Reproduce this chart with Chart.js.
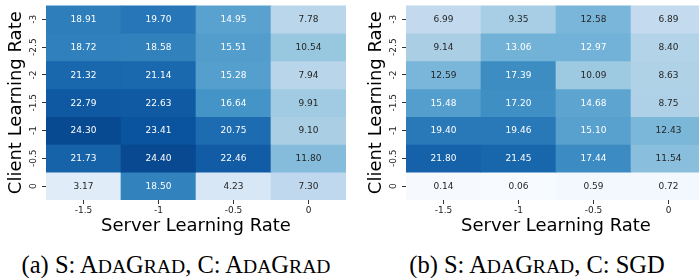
<!DOCTYPE html>
<html>
<head>
<meta charset="utf-8">
<script src="https://cdn.jsdelivr.net/npm/chart.js@4.4.0/dist/chart.umd.min.js"></script>
<style>
body { margin: 0; width: 699px; height: 278px; overflow: hidden; background: #fff; position: relative; }
.plot { position: absolute; top: 0; }
.cap { position: absolute; top: 252px; font-family: "Liberation Serif"; font-size: 24.5px; line-height: 25px; white-space: nowrap; transform: translateX(-50%); color: #000; }
.sc { font-size: 0.8em; }
</style>
</head>
<body>
<div class="plot" style="left:0"><canvas id="heatA" width="346" height="240"></canvas></div>
<div class="plot" style="left:360px"><canvas id="heatB" width="346" height="240"></canvas></div>
<div class="cap" style="left:176px">(a) S: A<span class="sc">DA</span>G<span class="sc">RAD</span>, C: A<span class="sc">DA</span>G<span class="sc">RAD</span></div>
<div class="cap" style="left:537px">(b) S: A<span class="sc">DA</span>G<span class="sc">RAD</span>, C: SGD</div>
<script>
// rows = client lr (top to bottom), cols = server lr
var rowLabels = ['-3', '-2.5', '-2', '-1.5', '-1', '-0.5', '0'];
var colLabels = ['-1.5', '-1', '-0.5', '0'];

// S: AdaGrad, C: AdaGrad
var adagradAdagrad = [
    [18.91, 19.70, 14.95, 7.78],
    [18.72, 18.58, 15.51, 10.54],
    [21.32, 21.14, 15.28, 7.94],
    [22.79, 22.63, 16.64, 9.91],
    [24.30, 23.41, 20.75, 9.10],
    [21.73, 24.40, 22.46, 11.80],
    [3.17, 18.50, 4.23, 7.30]
];

// S: AdaGrad, C: SGD
var adagradSgd = [
    [6.99, 9.35, 12.58, 6.89],
    [9.14, 13.06, 12.97, 8.40],
    [12.59, 17.39, 10.09, 8.63],
    [15.48, 17.20, 14.68, 8.75],
    [19.40, 19.46, 15.10, 12.43],
    [21.80, 21.45, 17.44, 11.54],
    [0.14, 0.06, 0.59, 0.72]
];

var vmin = 0, vmax = 27;
var blues = ['#f7fbff', '#deebf7', '#c6dbef', '#9ecae1', '#6baed6', '#4292c6', '#2171b5', '#08519c', '#08306b'];

function hexRgb(h) {
    return [parseInt(h.substr(1, 2), 16), parseInt(h.substr(3, 2), 16), parseInt(h.substr(5, 2), 16)];
}

function cellRgb(v) {
    var t = Math.min(1, Math.max(0, (v - vmin) / (vmax - vmin))) * (blues.length - 1);
    var i = Math.min(blues.length - 2, Math.floor(t));
    var f = t - i;
    var a = hexRgb(blues[i]), b = hexRgb(blues[i + 1]);
    return [0, 1, 2].map(function (k) { return Math.round(a[k] + (b[k] - a[k]) * f); });
}

function cellColor(v) {
    var c = cellRgb(v);
    return 'rgb(' + c[0] + ',' + c[1] + ',' + c[2] + ')';
}

// same rule seaborn uses to pick annotation colour
function textColor(v) {
    var lin = cellRgb(v).map(function (c) {
        c = c / 255;
        return c <= 0.03928 ? c / 12.92 : Math.pow((c + 0.055) / 1.055, 2.4);
    });
    var lum = 0.2126 * lin[0] + 0.7152 * lin[1] + 0.0722 * lin[2];
    return lum > 0.408 ? '#262626' : '#ffffff';
}

var annotate = {
    id: 'annotate',
    afterDatasetsDraw: function (chart) {
        var ctx = chart.ctx;
        ctx.save();
        ctx.font = '9px "DejaVu Sans"';
        ctx.textAlign = 'center';
        ctx.textBaseline = 'middle';
        chart.data.datasets.forEach(function (ds, i) {
            chart.getDatasetMeta(i).data.forEach(function (bar, j) {
                var v = ds.values[j];
                ctx.fillStyle = textColor(v);
                ctx.fillText(v.toFixed(2), bar.x, (bar.y + bar.base) / 2 + 0.5);
            });
        });
        ctx.restore();
    }
};

function buildDatasets(values) {
    return values.map(function (row, r) {
        return {
            label: rowLabels[r],
            data: row.map(function () { return [r - 0.5, r + 0.5]; }),
            values: row,
            backgroundColor: row.map(cellColor),
            borderWidth: 0,
            grouped: false,
            barPercentage: 1,
            categoryPercentage: 1
        };
    });
}

function drawHeatmap(id, values) {
    var ctx = document.getElementById(id).getContext('2d');
    return new Chart(ctx, {
        type: 'bar',
        data: {
            labels: colLabels,
            datasets: buildDatasets(values)
        },
        options: {
            responsive: false,
            animation: false,
            layout: { padding: { top: 5, left: 0, right: 0, bottom: 0 } },
            plugins: { legend: { display: false }, tooltip: { enabled: false } },
            scales: {
                x: {
                    type: 'category',
                    grid: { offset: false, drawOnChartArea: false, drawTicks: true, tickLength: 4, color: '#333' },
                    border: { display: false },
                    ticks: { font: { family: 'DejaVu Sans', size: 9 }, color: '#222', padding: 1, maxRotation: 0 },
                    title: { display: true, text: 'Server Learning Rate', color: '#000',
                             font: { family: 'DejaVu Sans', size: 18 }, padding: { top: 0, bottom: 3 } },
                    afterFit: function (s) { s.height = 40; }
                },
                y: {
                    type: 'linear',
                    reverse: true,
                    min: -0.5,
                    max: 6.5,
                    afterBuildTicks: function (s) {
                        s.ticks = rowLabels.map(function (l, i) { return { value: i }; });
                    },
                    grid: { drawOnChartArea: false, drawTicks: true, tickLength: 4, color: '#333' },
                    border: { display: false },
                    ticks: {
                        font: { family: 'DejaVu Sans', size: 9 }, color: '#222',
                        minRotation: 90, maxRotation: 90, crossAlign: 'center', padding: 0,
                        callback: function (v) { return rowLabels[Math.round(v)]; }
                    },
                    title: { display: true, text: 'Client Learning Rate', color: '#000',
                             font: { family: 'DejaVu Sans', size: 18 }, padding: { top: 6, bottom: 0 } },
                    afterFit: function (s) { s.width = 46; }
                }
            }
        },
        plugins: [annotate]
    });
}

drawHeatmap('heatA', adagradAdagrad);
drawHeatmap('heatB', adagradSgd);
</script>
</body>
</html>
